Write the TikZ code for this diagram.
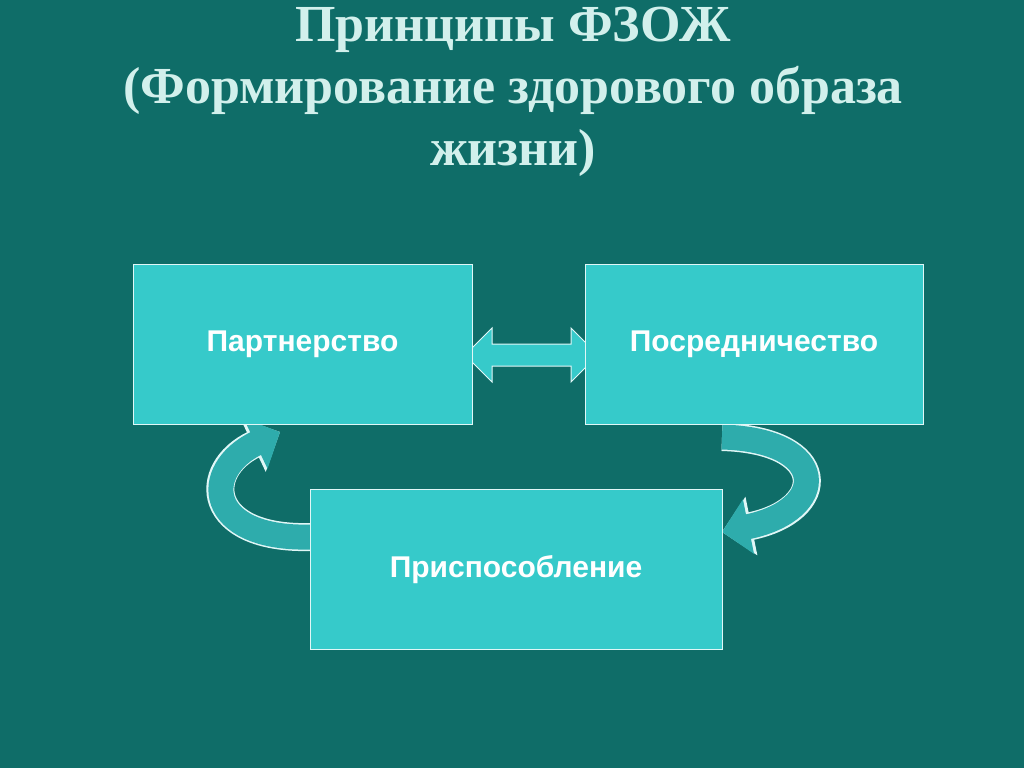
\documentclass[tikz,border=0pt]{standalone}
\usepackage{fontspec}
\setmainfont{Liberation Serif}
\newfontfamily\boxfont{Liberation Sans}
\usetikzlibrary{arrows.meta}
\definecolor{bg}{HTML}{0F6D68}
\definecolor{boxc}{HTML}{36CACA}
\definecolor{titlec}{HTML}{D2F0EC}
\tikzset{
  box/.style={draw=white!85!boxc,line width=1pt,fill=boxc,minimum width=#1,minimum height=160pt,inner sep=0pt,
    font=\boxfont\bfseries\fontsize{30}{34}\selectfont,text=white},
  ttl/.style={font=\bfseries\fontsize{52}{62}\selectfont,text=titlec,align=center},
  bendout/.style={line width=28pt,draw=white!85!boxc,-{Triangle[width=58pt,length=30pt]}},
  bendin/.style={line width=25pt,draw=boxc!85!black,-{Triangle[width=54pt,length=27pt]}}
}
\begin{document}
\begin{tikzpicture}[x=1pt,y=-1pt]
\fill[bg] (0,0) rectangle (1024,768);
\useasboundingbox (0,0) rectangle (1024,768);
\node[ttl] (title) at (513,92) {Принципы ФЗОЖ\\(Формирование здорового образа\\жизни)};
\node[box=339pt] (a) at (302.5,344) {Партнерство};
\node[box=338pt] (b) at (754,344) {Посредничество};
\node[box=412pt] (c) at (516,569.5) {Приспособление};
\draw[white!85!boxc,fill=boxc,line width=1pt]
  (465,355) -- (492,328) -- (492,344) -- (571,344) -- (571,328) -- (598,355) -- (571,382) -- (571,366) -- (492,366) -- (492,382) -- cycle;
\coordinate (ls) at (311,537);
\coordinate (le) at (280,432);
\coordinate (rs) at (722,437);
\coordinate (re) at (722,532);
\draw[bendout] (ls) .. controls (205,540) and (200,470) .. (le);
\draw[bendin] (ls) .. controls (205,540) and (200,470) .. (le);
\draw[bendout] (rs) .. controls (830,440) and (830,510) .. (re);
\draw[bendin] (rs) .. controls (830,440) and (830,510) .. (re);
\node[box=412pt] at (516,569.5) {Приспособление};
\node[box=338pt] at (754,344) {Посредничество};
\node[box=339pt] at (302.5,344) {Партнерство};
\end{tikzpicture}
\end{document}
